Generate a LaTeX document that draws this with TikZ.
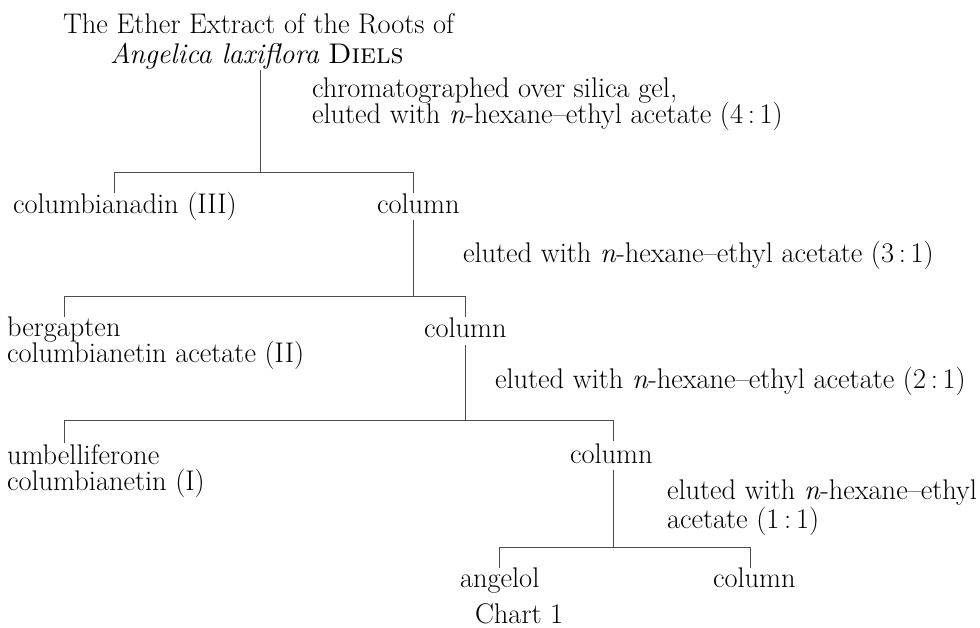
\documentclass[tikz,border=0pt]{standalone}
\usepackage{tikz}
\begin{document}
\begin{tikzpicture}[x=1pt,y=-1pt,
  txt/.style={anchor=base west,inner sep=0pt,outer sep=0pt,font=\fontsize{28.4}{30}\selectfont},
  bar/.style={line width=0.8pt,black!70}]
\useasboundingbox (0,0) rectangle (980,627);
% texts
\node[txt] (t1) at (63,33) {The Ether Extract of the Roots of};
\node[txt] (t2) at (110,63) {\textit{Angelica laxiflora} \textsc{Diels}};
\node[txt] (l1a) at (312,97) {chromatographed over silica gel,};
\node[txt] (l1b) at (312,123) {eluted with \textit{n}-hexane--ethyl acetate (4\,:\,1)};
\node[txt] (c3) at (13,213) {columbianadin (III)};
\node[txt] (col1) at (377,213) {column};
\node[txt] (l2) at (463,262) {eluted with \textit{n}-hexane--ethyl acetate (3\,:\,1)};
\node[txt] (b1) at (7,336) {bergapten};
\node[txt] (b2) at (7,362) {columbianetin acetate (II)};
\node[txt] (col2) at (424,337) {column};
\node[txt] (l3) at (495,388) {eluted with \textit{n}-hexane--ethyl acetate (2\,:\,1)};
\node[txt] (u1) at (7,464) {umbelliferone};
\node[txt] (u2) at (7,490) {columbianetin (I)};
\node[txt] (col3) at (570,463) {column};
\node[txt] (l4a) at (667,499) {eluted with \textit{n}-hexane--ethyl};
\node[txt] (l4b) at (667,528) {acetate (1\,:\,1)};
\node[txt] (ang) at (460,587) {angelol};
\node[txt] (col4) at (713,587) {column};
\node[txt] (ch) at (475,623) {Chart 1};
% junctions
\coordinate (s0) at (260,70);
\coordinate (j0) at (260,172);
\coordinate (a0) at (114,172); \coordinate (a0e) at (114,193);
\coordinate (b0) at (413,172); \coordinate (b0e) at (413,193);
\coordinate (s1) at (413,220);
\coordinate (j1) at (413,296);
\coordinate (a1) at (64,296); \coordinate (a1e) at (64,317);
\coordinate (b1c) at (465,296); \coordinate (b1e) at (465,317);
\coordinate (s2) at (465,345);
\coordinate (j2) at (465,420);
\coordinate (a2) at (64,420); \coordinate (a2e) at (64,443);
\coordinate (b2c) at (613,420); \coordinate (b2e) at (613,441);
\coordinate (s3) at (613,470);
\coordinate (j3) at (613,547);
\coordinate (a3) at (499,547); \coordinate (a3e) at (499,568);
\coordinate (b3c) at (750,547); \coordinate (b3e) at (750,568);
% connectors
\draw[bar] (s0) -- (j0);
\draw[bar] (a0e) -- (a0) -- (b0) -- (b0e);
\draw[bar] (s1) -- (j1);
\draw[bar] (a1e) -- (a1) -- (b1c) -- (b1e);
\draw[bar] (s2) -- (j2);
\draw[bar] (a2e) -- (a2) -- (b2c) -- (b2e);
\draw[bar] (s3) -- (j3);
\draw[bar] (a3e) -- (a3) -- (b3c) -- (b3e);
\end{tikzpicture}
\end{document}
